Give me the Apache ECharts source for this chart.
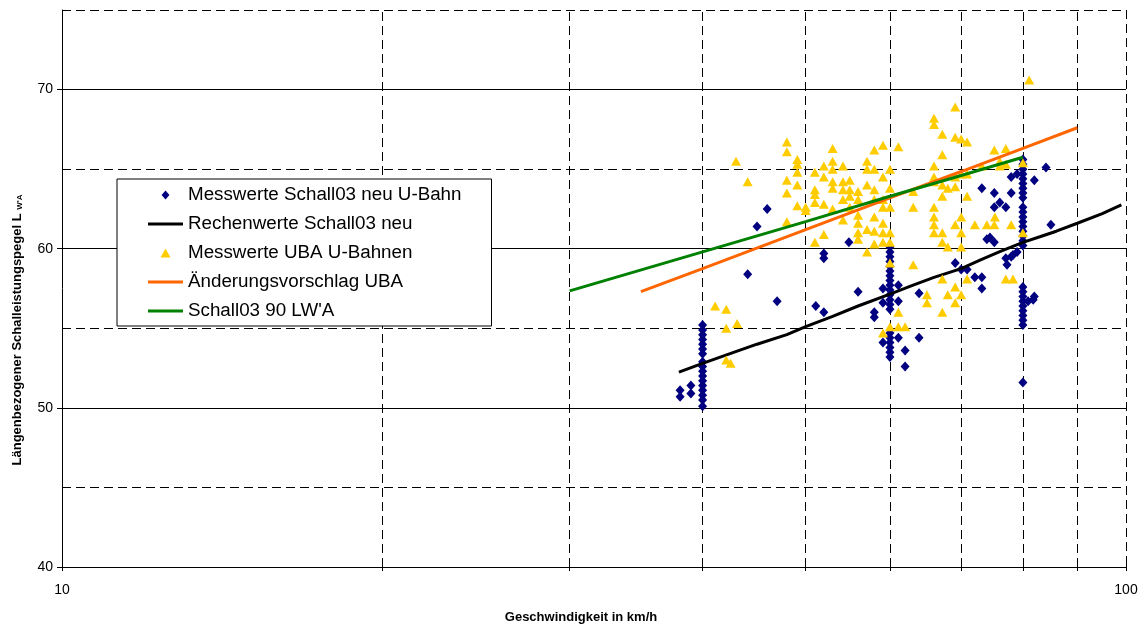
<!DOCTYPE html>
<html>
<head>
<meta charset="utf-8">
<script src="https://cdn.jsdelivr.net/npm/echarts@6/dist/echarts.min.js"></script>
<style>
html,body{margin:0;padding:0;background:#fff;}
#chart{width:1141px;height:628px;}
</style>
</head>
<body>
<div id="chart"></div>
<script>
// ---- data ----
const seriesNames = ['Messwerte Schall03 neu U-Bahn','Rechenwerte Schall03 neu','Messwerte UBA U-Bahnen','Änderungsvorschlag UBA','Schall03 90 LW\'A'];

const messSchall03 = [
 [38.1,51.1],[38.1,50.7],[39.0,51.4],[39.0,50.9],
 [40,55.2],[40,54.9],[40,54.6],[40,54.3],[40,54.0],[40,53.7],[40,53.4],[40,52.9],[40,52.6],[40,52.3],[40,52.0],[40,51.7],[40,51.4],[40,51.1],[40,50.8],[40,50.5],[40,50.1],
 [44.1,58.4],[45.0,61.4],[46.0,62.5],[47.0,56.7],
 [51.1,56.4],[52.0,56.0],[52.0,59.7],[52.0,59.4],[54.9,60.4],[56.0,57.3],
 [58.0,56.0],[58.0,55.7],[59.1,57.5],[59.1,56.6],[59.1,54.1],
 [60,60.1],[60,59.8],[60,59.5],[60,59.2],[60,58.9],[60,58.6],[60,58.3],[60,58.0],[60,57.7],[60,57.4],[60,57.1],[60,56.8],[60,56.5],[60,56.2],
 [60,54.7],[60,54.4],[60,54.1],[60,53.8],[60,53.5],[60,53.2],
 [61.1,57.7],[61.1,56.7],[61.1,54.4],[62.0,53.6],[62.0,52.6],[63.9,57.2],[63.9,54.4],
 [69.1,59.1],[70,58.7],[70.9,58.7],[72.1,58.2],[73.2,58.2],[73.2,57.5],[73.2,63.8],
 [74.0,60.6],[74.5,60.7],[75.2,60.4],[75.2,63.5],[75.2,62.6],[76.1,62.9],
 [77.1,62.6],[77.1,59.4],[77.3,59.0],[78.0,63.5],[78.0,64.5],[78.0,59.5],[78.3,59.6],[79.0,64.7],[79.0,59.8],
 [80,65.6],[80,65.3],[80,65.0],[80,64.7],[80,64.4],[80,64.1],[80,63.8],[80,63.5],[80,63.2],[80,62.6],[80,62.3],[80,62.0],[80,61.7],[80,61.4],[80,61.1],[80,60.8],[80,60.5],[80,60.2],
 [80,57.6],[80,57.3],[80,57.0],[80,56.7],[80,56.4],[80,56.1],[80,55.8],[80,55.5],[80,55.2],[80,51.6],
 [80.9,56.7],[81.8,56.8],[82.0,57.0],[82.0,64.3],[84.1,65.1],[85.0,61.5]
];

const rechenSpeed = [38, 40, 42, 45, 48, 50, 53, 56, 60, 63, 66, 70, 73, 76, 80, 83, 86, 90, 95, 99];
const rechenLevel = [52.25, 52.8, 53.3, 54.0, 54.6, 55.1, 55.75, 56.4, 57.15, 57.7, 58.2, 58.75, 59.3, 59.8, 60.4, 60.75, 61.1, 61.6, 62.2, 62.75];

const messUBA = [
 [41.1,56.4],[42.1,56.2],[42.1,55.0],[43.1,55.3],[42.1,53.0],[42.5,52.8],
 [43.0,65.5],[44.1,64.2],
 [48.0,66.7],[48.0,66.1],[49.1,65.6],[49.1,65.3],[49.1,64.8],[48.0,64.3],[49.1,64.0],[48.0,63.5],[49.1,62.7],[50.0,62.6],[50.0,62.4],[48.0,61.7],
 [51.0,64.8],[51.0,63.7],[51.0,63.4],[51.0,62.9],[52.0,65.2],[52.0,64.5],[52.0,62.8],
 [53.0,66.3],[53.0,65.5],[53.0,65.0],[53.0,64.2],[53.0,63.8],[53.0,62.5],
 [54.2,65.2],[54.2,64.2],[54.2,63.7],[54.2,63.1],[54.2,61.8],
 [55.0,64.3],[55.0,63.7],[55.0,63.3],[55.0,62.6],
 [56.0,63.6],[56.0,63.1],[56.0,62.1],[56.0,61.6],[56.0,61.0],[56.0,60.6],
 [57.1,65.5],[57.1,65.0],[57.1,64.0],[57.1,61.2],[57.1,59.8],
 [58.0,66.2],[58.0,65.0],[58.0,63.7],[58.0,63.1],[58.0,62.0],[58.0,61.1],[58.0,60.3],
 [59.1,66.5],[59.1,64.5],[59.1,63.1],[59.1,62.6],[59.1,61.6],[59.1,61.0],[59.1,60.4],
 [60,65.0],[60,63.8],[60,62.6],[60,61.0],[60,60.4],[60,59.1],
 [61.1,66.4],[51.0,60.4],[52.0,60.9],
 [63.1,59.0],[61.1,56.0],[59.1,54.7],[60,55.1],[61.1,55.1],[62.0,55.1],
 [63.1,63.6],[63.1,62.6],
 [69.1,68.9],[66.0,68.2],[66.0,67.8],[67.2,67.2],[69.1,67.0],[70,66.9],[70.9,66.7],[67.2,65.9],[66.0,65.2],
 [75.2,66.2],[77.1,66.3],[73.2,65.2],[76.1,65.5],[76.1,65.2],[77.1,65.3],[80,65.4],
 [66.0,64.5],[66.0,64.2],[67.2,64.0],[69.1,64.5],[70,64.7],[70.9,64.7],[68.0,63.8],[69.1,63.9],[67.2,63.3],[70.9,63.3],
 [66.0,62.6],[66.0,62.0],[66.0,61.5],[66.0,61.0],[67.2,61.0],[67.2,60.4],[68.0,60.1],[69.1,61.5],[70,62.0],[70,61.0],[70,60.1],
 [72.1,61.5],[74.0,61.5],[75.2,61.5],[75.3,62.0],[78.0,61.5],[80,61.0],
 [67.2,58.1],[69.1,57.6],[65.0,57.1],[65.0,56.6],[68.0,57.1],[70,57.1],[69.1,56.6],[67.2,56.0],[77.1,58.1],[78.3,58.1],[70.9,58.1],
 [81.1,70.6]
];

const ubaSpeed = [35, 40, 50, 60, 70, 80, 90];
const ubaLevel = [57.3, 58.75, 61.2, 63.2, 64.85, 66.3, 67.6];

const schall90Speed = [30, 40, 50, 60, 70, 80];
const schall90Level = [57.35, 59.8, 61.7, 63.3, 64.6, 65.75];

const xGridValues = [20, 30, 40, 50, 60, 70, 80, 90];
const xTickValues = [10, 20, 30, 40, 50, 60, 70, 80, 90, 100];
const yMajorValues = [40, 50, 60, 70];
const yMin = 40, yMax = 75, yMinorStep = 5;
const xMin = 10, xMax = 100;

const yAxisTitle = 'Längenbezogener Schalleistungspegel L ';
const yAxisTitleSub = "W'A";
const xAxisTitle = 'Geschwindigkeit in km/h';

// ---- chart ----
const zip = (a, b) => a.map((v, i) => [v, b[i]]);
const chart = echarts.init(document.getElementById('chart'), null, {renderer: 'canvas'});
const FONT = 'Liberation Sans, Arial, sans-serif';
const ICON_DIAMOND = 'path://M4,0 L8,4.6 L4,9.2 L0,4.6 Z';
const ICON_TRIANGLE = 'path://M5,0 L10,9 L0,9 Z';
const ICON_LINE = 'path://M0,0 H35 V3 H0 Z';
const legendIcons = [ICON_DIAMOND, ICON_LINE, ICON_TRIANGLE, ICON_LINE, ICON_LINE];

const option = {
  animation: false,
  backgroundColor: '#ffffff',
  textStyle: {fontFamily: FONT},
  grid: {left: 62, right: 15, top: 10, bottom: 61, containLabel: false},
  legend: {
    orient: 'vertical',
    left: 117, top: 179,
    padding: [6, 30, 5, 31],
    itemWidth: 35, itemHeight: 9, itemGap: 9,
    symbolKeepAspect: true,
    backgroundColor: '#ffffff',
    borderColor: '#000', borderWidth: 1,
    textStyle: {fontFamily: FONT, fontSize: 18.8, color: '#000', lineHeight: 20},
    data: seriesNames.map((n, i) => ({name: n, icon: legendIcons[i]}))
  },
  xAxis: [{
    type: 'log', logBase: 10, min: xMin, max: xMax,
    axisLine: {show: true, lineStyle: {color: '#000', width: 1}},
    axisTick: {show: false},
    axisLabel: {color: '#000', fontSize: 14, margin: 16, fontFamily: FONT,
      showMinLabel: true, showMaxLabel: true},
    splitLine: {show: true, lineStyle: {color: '#000', type: [9, 5], width: 1}},
    minorTick: {show: false}, minorSplitLine: {show: false}
  }, {
    type: 'log', logBase: 10, min: xMin, max: xMax, position: 'bottom',
    axisLine: {show: false},
    axisTick: {show: true, customValues: xTickValues, length: 4, inside: false, lineStyle: {color: '#000'}},
    axisLabel: {show: false},
    splitLine: {show: false}
  }, {
    type: 'log', logBase: 10, min: xMin, max: xMax, position: 'bottom',
    axisLine: {show: false},
    axisTick: {show: true, customValues: xTickValues, length: 4, inside: true, lineStyle: {color: '#000'}},
    axisLabel: {show: false},
    splitLine: {show: false}
  }],
  yAxis: [{
    type: 'value', min: yMin, max: yMax, interval: yMinorStep,
    axisLine: {show: true, lineStyle: {color: '#000', width: 1}},
    axisTick: {show: false},
    axisLabel: {show: false},
    splitLine: {show: true, lineStyle: {color: '#000', type: [9, 5], width: 1}}
  }, {
    type: 'value', min: yMin, max: yMax, position: 'left',
    axisLine: {show: false},
    axisTick: {show: true, customValues: yMajorValues, length: 5, lineStyle: {color: '#000'}},
    axisLabel: {show: true, customValues: yMajorValues, color: '#000', fontSize: 14, margin: 9, fontFamily: FONT},
    splitLine: {show: true, lineStyle: {color: '#000', type: 'solid', width: 1}}
  }],
  graphic: [{
    type: 'text', x: 17, y: 330, rotation: Math.PI / 2,
    style: {
      text: yAxisTitle + '{sub|' + yAxisTitleSub + '}',
      fontFamily: FONT, fontSize: 13, fontWeight: 'bold', fill: '#000',
      align: 'center', verticalAlign: 'middle',
      rich: {sub: {fontFamily: FONT, fontSize: 8, fontWeight: 'bold', fill: '#000', padding: [6, 0, 0, 0]}}
    }
  }, {
    type: 'text', x: 581, y: 617,
    style: {text: xAxisTitle, fontFamily: FONT, fontSize: 13, fontWeight: 'bold', fill: '#000',
      align: 'center', verticalAlign: 'middle'}
  }],
  series: [{
    name: seriesNames[0], type: 'scatter', data: messSchall03,
    symbol: 'diamond', symbolSize: [9, 10],
    itemStyle: {color: '#000080', opacity: 1}, z: 3
  }, {
    name: seriesNames[1], type: 'line', data: zip(rechenSpeed, rechenLevel),
    symbol: 'none', showSymbol: false,
    lineStyle: {color: '#000000', width: 3}, itemStyle: {color: '#000000'}, z: 4,
    markLine: {
      silent: true, symbol: 'none', label: {show: false},
      lineStyle: {color: '#000', type: [9, 5], width: 1},
      data: xGridValues.map(v => ({xAxis: v})), z: 1
    }
  }, {
    name: seriesNames[2], type: 'scatter', data: messUBA,
    symbol: 'triangle', symbolSize: [10, 9],
    itemStyle: {color: '#FFCC00', opacity: 1}, z: 5
  }, {
    name: seriesNames[3], type: 'line', data: zip(ubaSpeed, ubaLevel),
    symbol: 'none', showSymbol: false,
    lineStyle: {color: '#FF6600', width: 3}, itemStyle: {color: '#FF6600'}, z: 6
  }, {
    name: seriesNames[4], type: 'line', data: zip(schall90Speed, schall90Level),
    symbol: 'none', showSymbol: false,
    lineStyle: {color: '#008000', width: 3}, itemStyle: {color: '#008000'}, z: 7
  }]
};
chart.setOption(option);
</script>
</body>
</html>
